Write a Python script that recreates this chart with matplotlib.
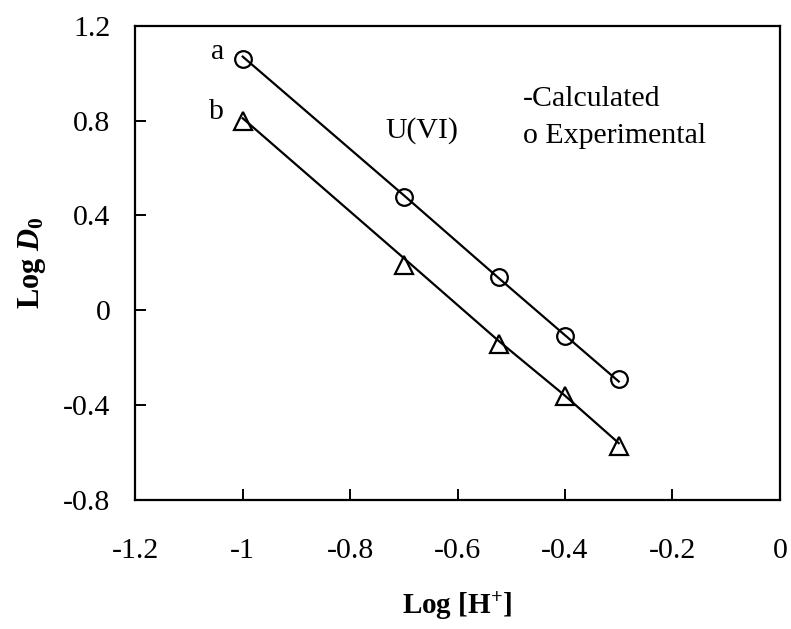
import matplotlib
matplotlib.use("Agg")
import matplotlib.pyplot as plt

plt.rcParams['font.family'] = ['Liberation Serif', 'DejaVu Serif']
plt.rcParams['mathtext.fontset'] = 'custom'
plt.rcParams['mathtext.rm'] = 'Liberation Serif'
plt.rcParams['mathtext.it'] = 'Liberation Serif:italic'
plt.rcParams['mathtext.bf'] = 'Liberation Serif:bold'
plt.rcParams['mathtext.bfit'] = 'Liberation Serif:bold:italic'

# log [H+]
log_h = [-1.0, -0.7, -0.523, -0.4, -0.3]

# experimental points
exp_a = [1.06, 0.48, 0.14, -0.11, -0.29]
exp_b = [0.80, 0.19, -0.14, -0.36, -0.57]

# calculated lines
calc_a = [1.07, 0.485, 0.135, -0.105, -0.30]
calc_b = [0.81, 0.22, -0.13, -0.36, -0.56]

fig = plt.figure(figsize=(7.91, 6.29), dpi=100)
ax = fig.add_axes([0.171, 0.205, 0.815, 0.754])

ax.plot(log_h, calc_a, color='black', lw=1.6)
ax.plot(log_h, calc_b, color='black', lw=1.6)
ax.plot(log_h, exp_a, 'o', ms=12, mfc='none', mec='black', mew=1.6)
ax.plot(log_h, exp_b, '^', ms=13, mfc='none', mec='black', mew=1.6)

fs = 21.5
ax.text(-1.035, 1.09, 'a', fontsize=fs, ha='right', va='center')
ax.text(-1.035, 0.835, 'b', fontsize=fs, ha='right', va='center')
ax.text(-0.735, 0.76, 'U(VI)', fontsize=fs, ha='left', va='center')
ax.text(-0.478, 0.89, '-Calculated', fontsize=fs, ha='left', va='center')
ax.text(-0.478, 0.735, 'o Experimental', fontsize=fs, ha='left', va='center')

ax.set_xlim(-1.2, 0)
ax.set_ylim(-0.8, 1.2)
ax.set_xticks([-1.2, -1.0, -0.8, -0.6, -0.4, -0.2, 0])
ax.set_xticklabels(['-1.2', '-1', '-0.8', '-0.6', '-0.4', '-0.2', '0'])
ax.set_yticks([-0.8, -0.4, 0, 0.4, 0.8, 1.2])
ax.set_yticklabels(['-0.8', '-0.4', '0', '0.4', '0.8', '1.2'])
ax.tick_params(direction='in', length=8, width=1.4, labelsize=fs)
ax.tick_params(axis='x', pad=27)
ax.tick_params(axis='y', pad=18)
for s in ax.spines.values():
    s.set_linewidth(1.6)

ax.set_xlabel(r'Log [H$^{\mathbf{+}}$]', fontsize=21, fontweight='bold', labelpad=19)
ax.set_ylabel(r'Log $\boldsymbol{D}_{\mathbf{0}}$', fontsize=22, fontweight='bold', labelpad=11)

fig.savefig('out.png', dpi=100)
